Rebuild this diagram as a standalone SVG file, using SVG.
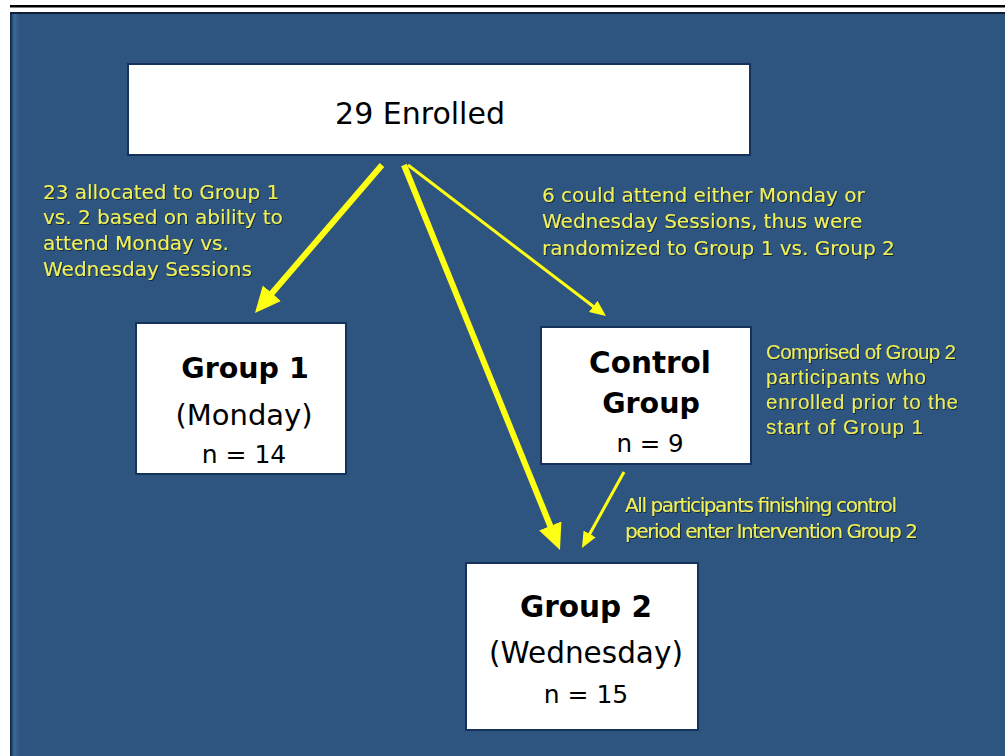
<svg xmlns="http://www.w3.org/2000/svg" width="1005" height="756" viewBox="0 0 1005 756">
<style>
.box{fill:#ffffff;stroke:#14325a;stroke-width:2}
.bt{font-family:"DejaVu Sans",Verdana,sans-serif;fill:#000;text-anchor:middle}
.b{font-weight:bold}
.note{font-family:"DejaVu Sans",Verdana,sans-serif;font-size:20px;fill:#F0F05A;filter:url(#sh)}
.note2{font-family:"Liberation Sans",Arial,sans-serif;font-size:20.5px;fill:#ECEC5C;filter:url(#sh)}
.thick{stroke:#FFFF14;stroke-width:6;fill:none}
.thin{stroke:#FFFF14;stroke-width:3;fill:none}
</style>
<defs>
<linearGradient id="edge" x1="0" y1="0" x2="1" y2="0">
<stop offset="0" stop-color="#0d1e36"/>
<stop offset="0.4" stop-color="#3a6a9c"/>
<stop offset="1" stop-color="#2E5480"/>
</linearGradient>
<filter id="sh" x="-5%" y="-20%" width="110%" height="140%">
<feDropShadow dx="1" dy="1" stdDeviation="0.3" flood-color="#10202e" flood-opacity="0.9"/>
</filter>
<marker id="hk" markerUnits="userSpaceOnUse" markerWidth="28" markerHeight="26" refX="6" refY="12" orient="auto">
<path d="M0,0 L26,12 L0,24 Z" fill="#FFFF14"/>
</marker>
<marker id="hn" markerUnits="userSpaceOnUse" markerWidth="18" markerHeight="16" refX="6" refY="7" orient="auto">
<path d="M0,0 L16,7 L0,14 Z" fill="#FFFF14"/>
</marker>
</defs>
<rect x="0" y="0" width="1005" height="756" fill="#ffffff"/>
<rect x="10" y="5" width="995" height="2.5" fill="#000"/>
<rect x="10" y="12" width="995" height="744" fill="#2E5480"/>
<rect x="10" y="12" width="10" height="744" fill="url(#edge)"/>
<rect x="10" y="12" width="995" height="2" fill="#0d1e36"/>

<g id="connectors">
<line class="thick" x1="382" y1="165" x2="268" y2="297.8" marker-end="url(#hk)"/>
<line class="thick" x1="404" y1="165" x2="552.5" y2="531.5" marker-end="url(#hk)"/>
<line class="thin" x1="408" y1="165" x2="598" y2="310" marker-end="url(#hn)"/>
<line class="thin" x1="624" y1="472" x2="586.8" y2="539.2" marker-end="url(#hn)"/>
</g>

<g id="enrolled">
<rect class="box" x="128" y="64" width="622" height="91"/>
<text class="bt" x="420" y="124" font-size="30">29 Enrolled</text>
</g>

<g id="group1">
<rect class="box" x="136" y="323" width="210" height="151"/>
<text class="bt b" x="245" y="378" font-size="28.5">Group 1</text>
<text class="bt" x="244" y="425" font-size="29">(Monday)</text>
<text class="bt" x="244" y="463" font-size="25">n = 14</text>
</g>

<g id="control">
<rect class="box" x="541" y="327" width="210" height="137"/>
<text class="bt b" x="650" y="373" font-size="29.5">Control</text>
<text class="bt b" x="651" y="413" font-size="28.5">Group</text>
<text class="bt" x="650" y="452" font-size="24.5">n = 9</text>
</g>

<g id="group2">
<rect class="box" x="466" y="563" width="232" height="167"/>
<text class="bt b" x="586" y="617" font-size="29.5">Group 2</text>
<text class="bt" x="586" y="663" font-size="29.5">(Wednesday)</text>
<text class="bt" x="586" y="703" font-size="25">n = 15</text>
</g>

<g id="note-left">
<text class="note" x="43" y="199">23 allocated to Group 1</text>
<text class="note" x="43" y="224">vs. 2 based on ability to</text>
<text class="note" x="43" y="250">attend Monday vs.</text>
<text class="note" x="43" y="276">Wednesday Sessions</text>
</g>

<g id="note-right">
<text class="note" x="542" y="202">6 could attend either Monday or</text>
<text class="note" x="542" y="228">Wednesday Sessions, thus were</text>
<text class="note" x="542" y="255">randomized to Group 1 vs. Group 2</text>
</g>

<g id="note-control">
<text class="note2" x="766" y="359" textLength="190">Comprised of Group 2</text>
<text class="note2" x="766" y="384" textLength="160">participants who</text>
<text class="note2" x="766" y="409" textLength="192">enrolled prior to the</text>
<text class="note2" x="766" y="434" textLength="157">start of Group 1</text>
</g>

<g id="note-bottom">
<text class="note" x="625" y="512" font-size="16" textLength="272">All participants finishing control</text>
<text class="note" x="625" y="538" font-size="16" textLength="293">period enter Intervention Group 2</text>
</g>
</svg>
